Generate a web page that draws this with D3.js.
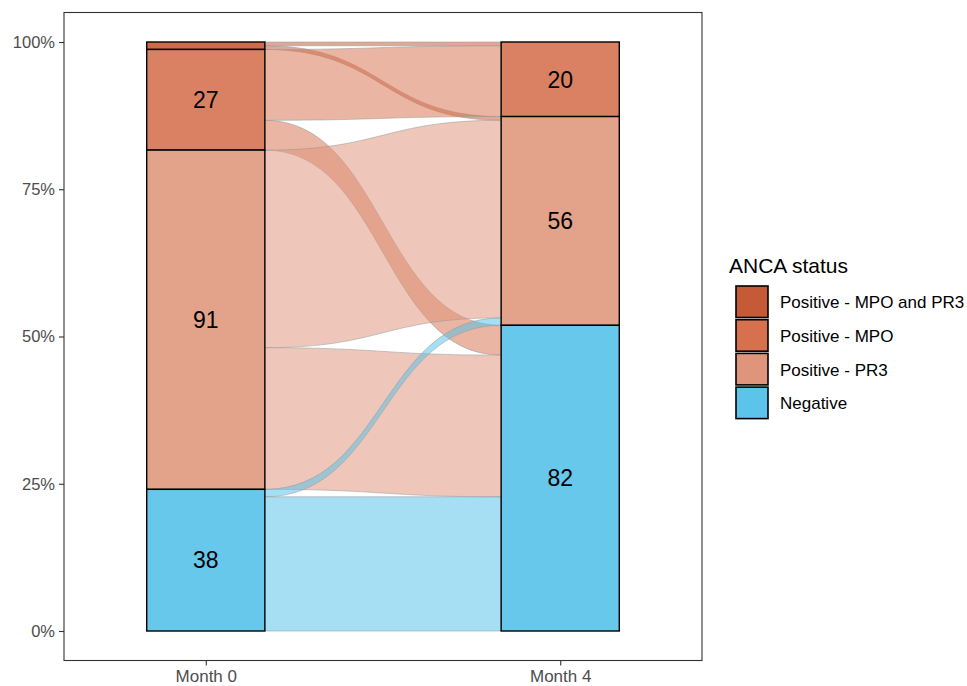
<!DOCTYPE html>
<html>
<head>
<meta charset="utf-8">
<script src="https://cdn.jsdelivr.net/npm/d3@7"></script>
<style>
  body { margin: 0; background: #fff; }
  svg { display: block; font-family: "Liberation Sans", Arial, sans-serif; }
</style>
</head>
<body>
<svg id="chart" width="967" height="686"></svg>
<script>
// ---------------- data ----------------
const axisLabels = ["Month 0", "Month 4"];
const statuses = ["Positive - MPO and PR3", "Positive - MPO", "Positive - PR3", "Negative"];
// flows: status at Month 0 -> status at Month 4, patient counts
const flowFrom  = ["Positive - MPO and PR3", "Positive - MPO and PR3", "Positive - MPO", "Positive - MPO", "Positive - PR3", "Positive - PR3", "Negative", "Negative"];
const flowTo    = ["Positive - MPO", "Positive - PR3", "Positive - MPO", "Negative", "Positive - PR3", "Negative", "Positive - PR3", "Negative"];
const flowCount = [1, 1, 19, 8, 53, 38, 2, 36];
const yTicks = [0, 0.25, 0.5, 0.75, 1];
const legendTitle = "ANCA status";
const minLabelCount = 5;

// ---------------- styles ----------------
const legendColor  = d3.scaleOrdinal().domain(statuses).range(["#C45A36", "#D6714D", "#DE957C", "#5CC4EA"]);
const stratumColor = d3.scaleOrdinal().domain(statuses).range(["#CD6B4A", "#DA8163", "#E3A38A", "#67C8EC"]);
const flowColor    = d3.scaleOrdinal().domain(statuses).range(["#C45A36", "#D6714D", "#DE937A", "#55C2EA"]);

const svg = d3.select("#chart");
const panel = { left: 64, right: 702, top: 12.5, bottom: 660.5 };

const x = d3.scaleLinear().domain([0.6, 2.4]).range([panel.left, panel.right]);
const y = d3.scaleLinear().domain([0, 1]).range([631, 42]);
const stratW = x(1 + 1/3) - x(1);

const total = d3.sum(flowCount);
const flows = flowFrom.map((f, i) => ({ from: f, to: flowTo[i], n: flowCount[i] }));

// strata stacks (top = first status)
function strataFor(key) {
  const res = [];
  let top = total;
  statuses.forEach(s => {
    const n = d3.sum(flows.filter(f => f[key] === s), f => f.n);
    if (n > 0) { res.push({ status: s, n, top, bottom: top - n }); }
    top -= n;
  });
  return res;
}
const leftStrata = strataFor("from");
const rightStrata = strataFor("to");

// flow positions within strata
const sIdx = s => statuses.indexOf(s);
leftStrata.forEach(st => {
  let t = st.top;
  flows.filter(f => f.from === st.status).sort((a, b) => sIdx(a.to) - sIdx(b.to)).forEach(f => {
    f.l0 = t; f.l1 = t - f.n; t -= f.n;
  });
});
rightStrata.forEach(st => {
  let t = st.top;
  flows.filter(f => f.to === st.status).sort((a, b) => sIdx(a.from) - sIdx(b.from)).forEach(f => {
    f.r0 = t; f.r1 = t - f.n; t -= f.n;
  });
});

const x0 = x(1) + stratW / 2, x1 = x(2) - stratW / 2, xm = (x0 + x1) / 2;
function flowPath(f) {
  const a0 = y(f.l0 / total), a1 = y(f.l1 / total), b0 = y(f.r0 / total), b1 = y(f.r1 / total);
  return `M${x0},${a0} C${xm},${a0} ${xm},${b0} ${x1},${b0} L${x1},${b1} C${xm},${b1} ${xm},${a1} ${x0},${a1} Z`;
}

// flows
svg.append("g").selectAll("path").data(flows).join("path")
  .attr("d", flowPath)
  .attr("fill", f => flowColor(f.from))
  .attr("fill-opacity", 0.52)
  .attr("stroke", "#9a9a9a")
  .attr("stroke-opacity", 0.55)
  .attr("stroke-width", 1);

// strata
function drawStrata(data, pos) {
  const g = svg.append("g");
  g.selectAll("rect").data(data).join("rect")
    .attr("x", x(pos) - stratW / 2)
    .attr("width", stratW)
    .attr("y", d => y(d.top / total))
    .attr("height", d => y(d.bottom / total) - y(d.top / total))
    .attr("fill", d => stratumColor(d.status))
    .attr("stroke", "#000")
    .attr("stroke-width", 1.4);
  g.selectAll("text").data(data.filter(d => d.n >= minLabelCount)).join("text")
    .attr("x", x(pos))
    .attr("y", d => y((d.top + d.bottom) / 2 / total))
    .attr("dy", "0.36em")
    .attr("text-anchor", "middle")
    .attr("font-size", 23)
    .attr("fill", "#000")
    .text(d => d.n);
}
drawStrata(leftStrata, 1);
drawStrata(rightStrata, 2);

// panel border
svg.append("rect")
  .attr("x", panel.left).attr("y", panel.top)
  .attr("width", panel.right - panel.left).attr("height", panel.bottom - panel.top)
  .attr("fill", "none").attr("stroke", "#333").attr("stroke-width", 1.1);

// y axis
const yAxis = d3.axisLeft(y).tickValues(yTicks).tickFormat(d3.format(".0%")).tickSize(5).tickPadding(4);
const gy = svg.append("g").attr("transform", `translate(${panel.left},0)`).call(yAxis);
gy.select(".domain").remove();
gy.selectAll(".tick line").attr("stroke", "#333").attr("stroke-width", 1.1);
gy.selectAll(".tick text").attr("fill", "#4D4D4D").attr("font-size", 16.5).attr("font-family", "Liberation Sans, Arial, sans-serif");

// x axis
const xAxis = d3.axisBottom(x).tickValues([1, 2]).tickFormat(d => axisLabels[d - 1]).tickSize(5).tickPadding(4);
const gx = svg.append("g").attr("transform", `translate(0,${panel.bottom})`).call(xAxis);
gx.select(".domain").remove();
gx.selectAll(".tick line").attr("stroke", "#333").attr("stroke-width", 1.1);
gx.selectAll(".tick text").attr("fill", "#4D4D4D").attr("font-size", 17).attr("font-family", "Liberation Sans, Arial, sans-serif");

// legend
const lg = svg.append("g").attr("transform", "translate(729,0)");
lg.append("text").attr("x", 0).attr("y", 273).attr("font-size", 21).attr("fill", "#000").text(legendTitle);
const items = lg.selectAll("g.item").data(statuses).join("g").attr("class", "item")
  .attr("transform", (d, i) => `translate(0,${286 + i * 33.7})`);
items.append("rect").attr("x", 7).attr("y", 0).attr("width", 32).attr("height", 31.5)
  .attr("fill", d => legendColor(d)).attr("stroke", "#000").attr("stroke-width", 1.6);
items.append("text").attr("x", 51).attr("y", 16).attr("dy", "0.36em")
  .attr("font-size", 17).attr("fill", "#000").text(d => d);
</script>
</body>
</html>
